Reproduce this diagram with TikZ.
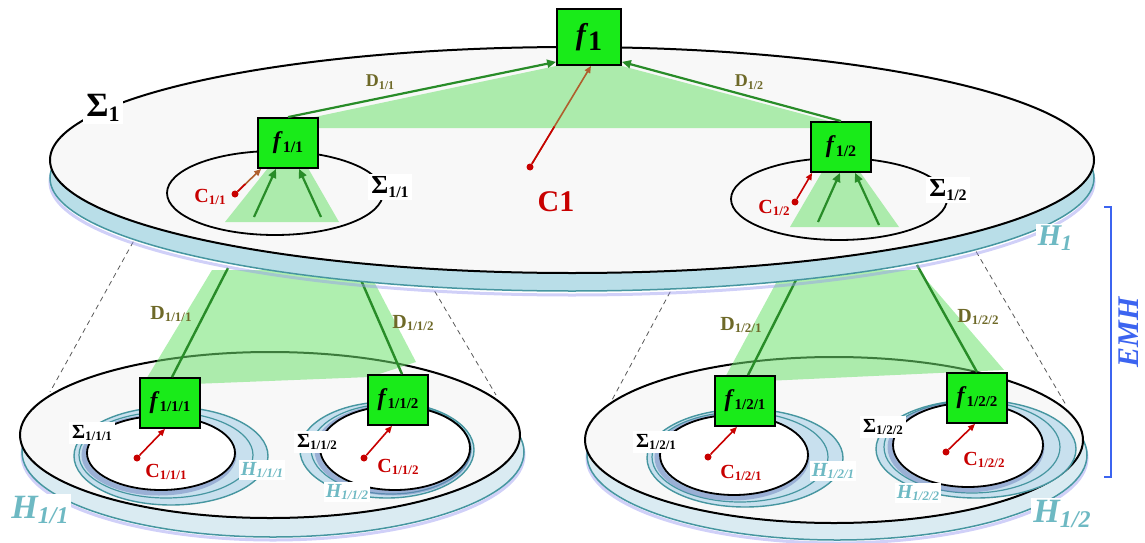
\documentclass[tikz,border=0pt]{standalone}
\usepackage{fontspec}
\setmainfont{Liberation Serif}
\usetikzlibrary{arrows.meta,calc}
\definecolor{boxgreen}{RGB}{25,235,25}
\definecolor{dgreen}{RGB}{40,140,40}
\definecolor{lgreenc}{RGB}{110,225,110}
\definecolor{cred}{RGB}{200,0,0}
\definecolor{carrowc}{RGB}{175,95,45}
\definecolor{dcol}{RGB}{110,105,40}
\definecolor{tealtxt}{RGB}{110,185,195}
\definecolor{tealline}{RGB}{70,150,160}
\definecolor{layerb}{RGB}{185,222,232}
\definecolor{layerl}{RGB}{218,235,242}
\definecolor{ringb}{RGB}{200,224,238}
\definecolor{shadowb}{RGB}{110,130,190}
\definecolor{diskw}{RGB}{248,248,248}
\definecolor{glow}{RGB}{150,150,240}
\definecolor{emhblue}{RGB}{60,100,240}
\newcommand\T[4]{{\fontsize{#1}{#1}\selectfont #3}{\fontsize{#2}{#2}\selectfont\raisebox{-.45ex}{#4}}}
\tikzset{
 fbox/.style={draw=black, line width=1.8pt, fill=boxgreen, minimum width=60pt, minimum height=50pt, inner sep=0pt, font=\bfseries},
 wlab/.style={fill=white, inner sep=3pt, font=\bfseries},
 clab/.style={text=cred, inner sep=1pt, font=\bfseries},
 dlab/.style={text=dcol, inner sep=1pt, font=\bfseries},
 hlab/.style={text=tealtxt, fill=white, inner sep=2pt, font=\bfseries\itshape},
 garrow/.style={draw=dgreen, line width=2.2pt, -{Triangle[length=9pt,width=8pt]}},
 gline/.style={draw=dgreen, line width=2.4pt},
 carrow/.style={draw=carrowc, line width=1.6pt, -{Triangle[length=7pt,width=6pt]}},
 rarrow/.style={draw=cred, line width=1.6pt, -{Triangle[length=7pt,width=6pt]}},
 cdot/.style={circle, fill=cred, inner sep=0pt, minimum size=7pt},
 lgreen/.style={fill=lgreenc, fill opacity=.55},
 dline/.style={draw=gray!70!black, line width=.8pt, dash pattern=on 5pt off 4pt},
 topdisk/.style={draw=black, line width=2pt, fill=diskw},
 layer/.style={draw=tealline, line width=1.5pt, fill=layerb},
 lowlayer/.style={draw=tealline, line width=1.5pt, fill=layerl},
 ring/.style={draw=tealline, line width=1.4pt, fill=ringb},
 ringline/.style={draw=tealline, line width=1.2pt},
 shade/.style={draw=shadowb, line width=5pt, opacity=.5},
 glowline/.style={draw=glow, line width=3pt, opacity=.45},
 inner/.style={draw=black, line width=1.8pt, fill=white},
}
\begin{document}
\begin{tikzpicture}[x=1pt,y=-1pt]
\useasboundingbox (0,0) rectangle (1145,543);

% ---------- lower-left disk ----------
\draw[glowline] (273,455) ellipse [x radius=251pt, y radius=85pt];
\draw[lowlayer] (273,452) ellipse [x radius=251pt, y radius=85pt];
\draw[topdisk] (270,435) ellipse [x radius=250pt, y radius=83pt];
\draw[ring] (171,456) ellipse [x radius=97pt, y radius=49pt];
\draw[ringline] (166,455) ellipse [x radius=87pt, y radius=43pt];
\draw[shade] (159,455) ellipse [x radius=75pt, y radius=38pt];
\draw[inner] (161,453) ellipse [x radius=74pt, y radius=37pt];
\draw[ring] (387,450) ellipse [x radius=87pt, y radius=48pt];
\draw[ringline] (391,449) ellipse [x radius=80pt, y radius=45pt];
\draw[shade] (393,450) ellipse [x radius=76pt, y radius=43pt];
\draw[inner] (395,448) ellipse [x radius=75pt, y radius=42pt];

% ---------- lower-right disk ----------
\draw[glowline] (837,458) ellipse [x radius=250pt, y radius=85pt];
\draw[lowlayer] (837,455) ellipse [x radius=250pt, y radius=85pt];
\draw[topdisk] (834,440) ellipse [x radius=249pt, y radius=83pt];
\draw[ring] (745,458) ellipse [x radius=98pt, y radius=49pt];
\draw[ringline] (740,457) ellipse [x radius=88pt, y radius=45pt];
\draw[shade] (732,457) ellipse [x radius=75pt, y radius=41pt];
\draw[inner] (734,455) ellipse [x radius=74pt, y radius=40pt];
\draw[ring] (976,449) ellipse [x radius=100pt, y radius=49pt];
\draw[ringline] (972,447) ellipse [x radius=88pt, y radius=46pt];
\draw[shade] (966,447) ellipse [x radius=76pt, y radius=43pt];
\draw[inner] (968,445) ellipse [x radius=75pt, y radius=42pt];

% ---------- lower green regions ----------
\fill[lgreen] (212,270) -- (368,270) -- (416,362) -- (370,377) -- (142,386) -- cycle;
\fill[lgreen] (783,270) -- (918,270) -- (1004,370) -- (960,372) -- (722,383) -- cycle;

% ---------- dashed lines ----------
\coordinate (dl1a) at (142,226); \coordinate (dl1b) at (50,392);
\coordinate (dl2a) at (421,268); \coordinate (dl2b) at (496,395);
\coordinate (dl3a) at (683,268); \coordinate (dl3b) at (612,400);
\coordinate (dl4a) at (967,236); \coordinate (dl4b) at (1066,405);
\draw[dline] (dl1a) -- (dl1b);
\draw[dline] (dl2a) -- (dl2b);
\draw[dline] (dl3a) -- (dl3b);
\draw[dline] (dl4a) -- (dl4b);

% ---------- lower boxes and D lines ----------
\node[fbox] (f111) at (170,403) {\T{24}{15}{\textit{f}}{1/1/1}};
\node[fbox] (f112) at (398,400) {\T{24}{15}{\textit{f}}{1/1/2}};
\node[fbox] (f121) at (745,401) {\T{24}{15}{\textit{f}}{1/2/1}};
\node[fbox] (f122) at (977,398) {\T{24}{15}{\textit{f}}{1/2/2}};
\coordinate (t111) at (228,268);
\coordinate (t112) at (361,280);
\coordinate (t121) at (796,280);
\coordinate (t122) at (917,265);
\draw[gline] (t111) -- ([xshift=2pt]f111.north);
\draw[gline] (t112) -- ([xshift=4pt]f112.north);
\draw[gline] (t121) -- ([xshift=3pt]f121.north);
\draw[gline] (t122) -- (f122.north);

% ---------- top disk ----------
\draw[glowline] (572,182) ellipse [x radius=522pt, y radius=113pt];
\draw[layer] (572,178) ellipse [x radius=522pt, y radius=113pt];
\draw[topdisk] (572,160) ellipse [x radius=522pt, y radius=113pt];
\draw[inner, fill=none] (275,193) ellipse [x radius=108pt, y radius=42pt];
\draw[inner, fill=none] (839,199) ellipse [x radius=108pt, y radius=41pt];

% green regions on top disk
\fill[lgreen] (291,122) -- (556,66) -- (622,66) -- (840,124) -- (840,128) -- (291,128) -- cycle;
\fill[lgreen] (268,168) -- (308,168) -- (339,222) -- (225,222) -- cycle;
\fill[lgreen] (822,172) -- (860,172) -- (899,227) -- (790,227) -- cycle;

% top boxes
\node[fbox, minimum width=64pt, minimum height=56pt] (f1) at (589,37) {\T{30}{28}{\textit{f}}{1}};
\node[fbox] (f11) at (288,143) {\T{24}{16}{\textit{f}}{1/1}};
\node[fbox] (f12) at (841,147) {\T{24}{16}{\textit{f}}{1/2}};

% D arrows
\draw[garrow] (f11.north) -- ([yshift=4pt]f1.south west);
\draw[garrow] (f12.north) -- ([yshift=4pt]f1.south east);

% inner green arrows
\coordinate (a11a) at (254,217); \coordinate (a11b) at (321,217);
\coordinate (a12a) at (818,222); \coordinate (a12b) at (879,225);
\draw[garrow] (a11a) -- ([xshift=-12pt]f11.south);
\draw[garrow] (a11b) -- ([xshift=11pt]f11.south);
\draw[garrow] (a12a) -- ([xshift=-1pt]f12.south);
\draw[garrow] (a12b) -- ([xshift=14pt]f12.south);

% C arrows (top)
\node[cdot] (c1) at (530,167) {};
\coordinate (c1tip) at ([xshift=2pt]f1.south);
\draw[carrow] (c1) -- (c1tip);
\draw[draw=cred, line width=1.6pt] (c1) -- ($(c1)!0.4!(c1tip)$);
\node[cdot] (c11) at (235,194) {};
\draw[carrow] (c11) -- ([xshift=4pt]f11.south west);
\draw[draw=cred, line width=1.6pt] (c11) -- ($(c11)!0.4!([xshift=4pt]f11.south west)$);
\node[cdot] (c12) at (795,202) {};
\draw[rarrow] (c12) -- ([xshift=2pt]f12.south west);

% C arrows (bottom)
\node[cdot] (c111) at (137,458) {};
\draw[rarrow] (c111) -- ([xshift=-5pt]f111.south);
\node[cdot] (c112) at (364,458) {};
\draw[rarrow] (c112) -- ([xshift=-6pt]f112.south);
\node[cdot] (c121) at (708,457) {};
\draw[rarrow] (c121) -- ([xshift=-8pt]f121.south);
\node[cdot] (c122) at (946,452) {};
\draw[rarrow] (c122) -- ([xshift=-2pt]f122.south);

% ---------- labels ----------
\node[wlab] (s1) at (103,108) {\T{34}{22}{Σ}{1}};
\node[wlab] (s11) at (390,187) {\T{26}{16}{Σ}{1/1}};
\node[wlab] (s12) at (948,190) {\T{26}{16}{Σ}{1/2}};
\node[clab] (lc1) at (556,202) {\fontsize{30}{30}\selectfont C1};
\node[clab] (lc11) at (210,197) {\T{20}{13}{C}{1/1}};
\node[clab] (lc12) at (774,208) {\T{20}{13}{C}{1/2}};
\node[dlab] (d11) at (380,82) {\T{18}{12}{D}{1/1}};
\node[dlab] (d12) at (749,82) {\T{18}{12}{D}{1/2}};
\node[hlab] (h1) at (1055,238) {\T{30}{22}{H}{1}};

\node[dlab] (d111) at (171,314) {\T{20}{13}{D}{1/1/1}};
\node[dlab] (d112) at (413,323) {\T{20}{13}{D}{1/1/2}};
\node[dlab] (d121) at (741,325) {\T{20}{13}{D}{1/2/1}};
\node[dlab] (d122) at (978,317) {\T{20}{13}{D}{1/2/2}};

\node[wlab] (s111) at (92,433) {\T{20}{13}{Σ}{1/1/1}};
\node[wlab] (s112) at (317,442) {\T{20}{13}{Σ}{1/1/2}};
\node[wlab] (s121) at (656,442) {\T{20}{13}{Σ}{1/2/1}};
\node[wlab] (s122) at (883,427) {\T{20}{13}{Σ}{1/2/2}};
\node[clab] (lc111) at (166,472) {\T{20}{13}{C}{1/1/1}};
\node[clab] (lc112) at (398,467) {\T{20}{13}{C}{1/1/2}};
\node[clab] (lc121) at (741,473) {\T{20}{13}{C}{1/2/1}};
\node[clab] (lc122) at (984,460) {\T{20}{13}{C}{1/2/2}};
\node[hlab] (h111) at (262,470) {\T{20}{13}{H}{1/1/1}};
\node[hlab] (h112) at (347,492) {\T{20}{13}{H}{1/1/2}};
\node[hlab] (h121) at (833,471) {\T{20}{13}{H}{1/2/1}};
\node[hlab] (h122) at (918,493) {\T{20}{13}{H}{1/2/2}};
\node[hlab] (h11) at (40,510) {\T{34}{24}{H}{1/1}};
\node[hlab] (h12) at (1062,514) {\T{34}{24}{H}{1/2}};

% ---------- EMH bracket ----------
\coordinate (b1) at (1104,207); \coordinate (b2) at (1111,207);
\coordinate (b3) at (1111,477); \coordinate (b4) at (1104,477);
\draw[draw=emhblue, line width=1.6pt] (b1) -- (b2) -- (b3) -- (b4);
\node[text=emhblue, rotate=90, inner sep=0pt, font=\bfseries\itshape\fontsize{30}{30}\selectfont] (emh) at (1129,332) {EMH};
\end{tikzpicture}
\end{document}
